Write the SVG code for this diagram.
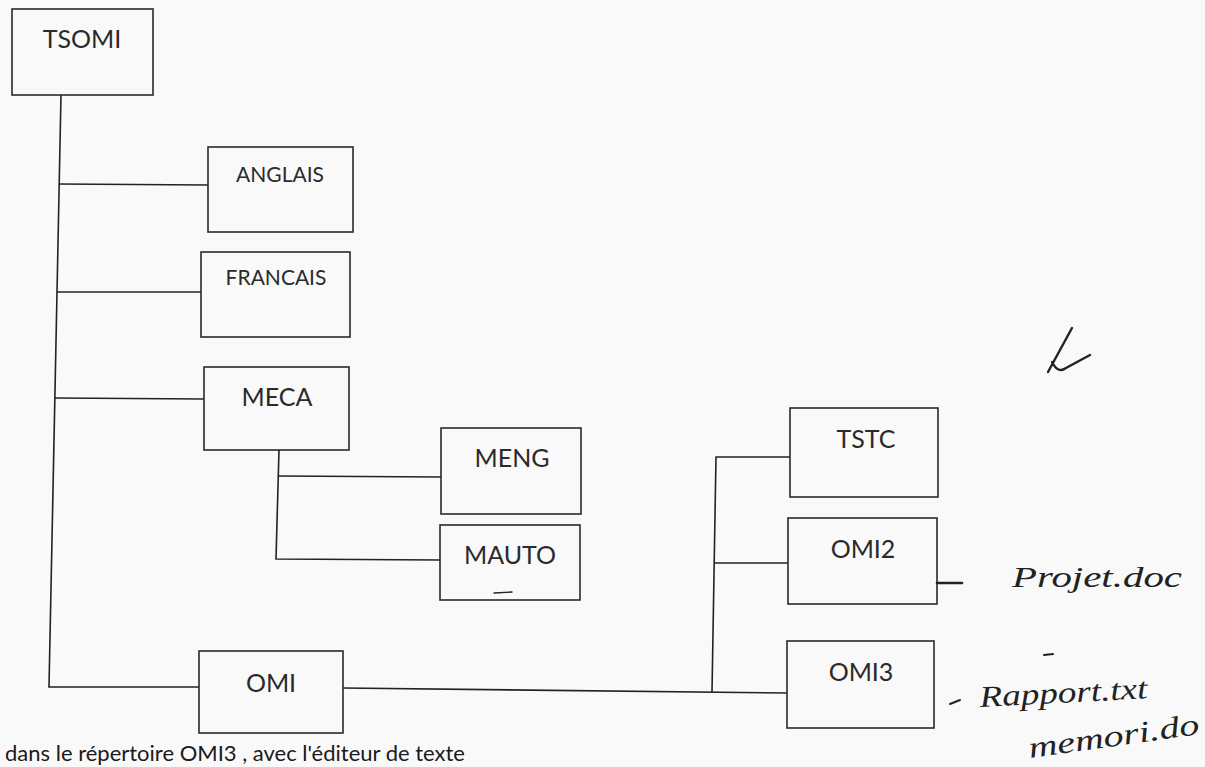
<svg xmlns="http://www.w3.org/2000/svg" width="1205" height="767" viewBox="0 0 1205 767">
<style>
.box{fill:none;stroke:#2a2a2a;stroke-width:1.6}
.ln{fill:none;stroke:#222;stroke-width:1.6}
.lbl{font-family:Lato,"Liberation Sans",sans-serif;fill:#2a2a2a;text-anchor:middle}
.big{font-size:25px}
.sm{font-size:21px}
.hand{font-family:"Liberation Serif",serif;font-style:italic;fill:#222}
.ink{fill:none;stroke:#222;stroke-linecap:round}
</style>
<rect x="0" y="0" width="1205" height="767" fill="#f9f9f9"/>
<g id="connectors">
<path class="ln" d="M61,95 L49,687 L199,687"/>
<path class="ln" d="M59,184 L208,185"/>
<path class="ln" d="M57,292 L201,292"/>
<path class="ln" d="M55,398 L204,399"/>
<path class="ln" d="M279,450 L276,559 L440,560"/>
<path class="ln" d="M279,476 L441,477"/>
<path class="ln" d="M343,688 L787,693"/>
<path class="ln" d="M790,457 L716,457 L712,692"/>
<path class="ln" d="M715,563 L788,563"/>
</g>
<g id="TSOMI"><rect class="box" x="12" y="9" width="141" height="86"/><text class="lbl big" x="82" y="48">TSOMI</text></g>
<g id="ANGLAIS"><rect class="box" x="208" y="147" width="145" height="85"/><text class="lbl sm" x="280" y="182">ANGLAIS</text></g>
<g id="FRANCAIS"><rect class="box" x="201" y="252" width="149" height="85"/><text class="lbl sm" x="276" y="285">FRANCAIS</text></g>
<g id="MECA"><rect class="box" x="204" y="367" width="145" height="83"/><text class="lbl big" x="277" y="406">MECA</text></g>
<g id="MENG"><rect class="box" x="441" y="428" width="140" height="86"/><text class="lbl big" x="512" y="467">MENG</text></g>
<g id="MAUTO"><rect class="box" x="440" y="525" width="140" height="75"/><text class="lbl big" x="510" y="564">MAUTO</text><path class="ink" stroke-width="1.4" d="M494,593 L512,592"/></g>
<g id="OMI"><rect class="box" x="199" y="651" width="144" height="82"/><text class="lbl big" x="271" y="692">OMI</text></g>
<g id="TSTC"><rect class="box" x="790" y="408" width="148" height="89"/><text class="lbl big" x="866" y="448">TSTC</text></g>
<g id="OMI2"><rect class="box" x="788" y="518" width="149" height="86"/><text class="lbl big" x="863" y="558">OMI2</text></g>
<g id="OMI3"><rect class="box" x="787" y="641" width="147" height="87"/><text class="lbl big" x="861" y="681">OMI3</text></g>
<g id="notes">
<path class="ink" stroke-width="2.6" d="M937,583 L962,583"/>
<text class="hand" x="1012" y="587" font-size="30" textLength="170" lengthAdjust="spacingAndGlyphs">Projet.doc</text>
<path class="ink" stroke-width="2" d="M1044,655 L1053,654"/>
<path class="ink" stroke-width="2" d="M950,704 L960,700"/>
<text class="hand" x="980" y="707" font-size="30" textLength="168" lengthAdjust="spacingAndGlyphs" transform="rotate(-3 980 707)">Rapport.txt</text>
<text class="hand" x="1030" y="758" font-size="30" textLength="172" lengthAdjust="spacingAndGlyphs" transform="rotate(-8 1030 758)">memori.do</text>
<path class="ink" stroke-width="2.4" d="M1072,328 L1048,372 M1052,362 Q1058,374 1066,368 L1090,355"/>
</g>
<text x="5" y="761" font-family="Lato,'Liberation Sans',sans-serif" font-size="22" fill="#1a1a1a">dans le répertoire OMI3 , avec l'éditeur de texte</text>
</svg>
